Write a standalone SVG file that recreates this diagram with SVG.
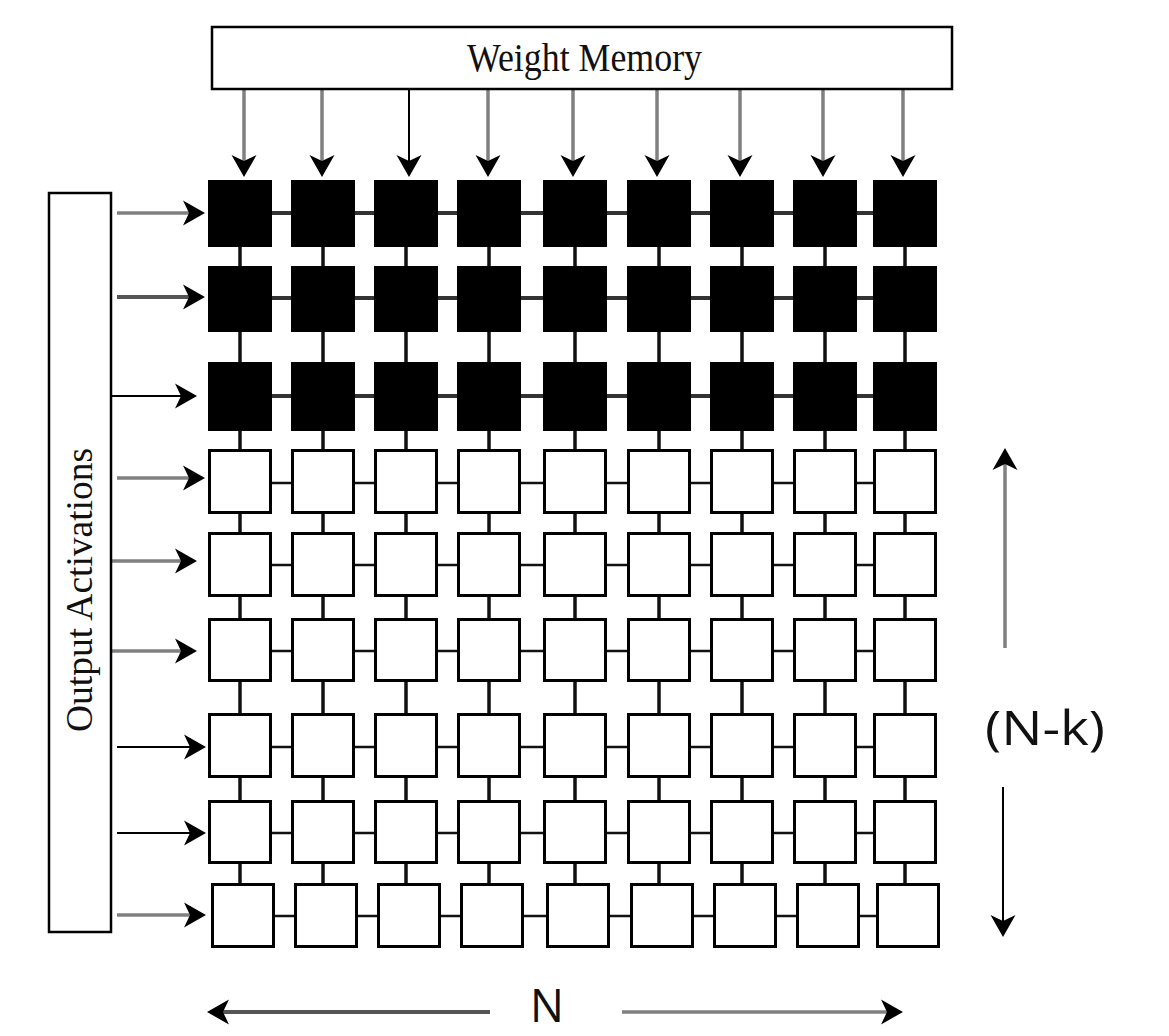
<svg xmlns="http://www.w3.org/2000/svg" width="1169" height="1036" viewBox="0 0 1169 1036">
<style>
.box{fill:#fff;stroke:#000;stroke-width:2.5}
.pb{fill:#000}
.pw{fill:#fff;stroke:#000;stroke-width:3}
.hb{stroke:#333;stroke-width:4}
.hw{stroke:#111;stroke-width:2.5}
.v{stroke:#111;stroke-width:3.5}
.ag{stroke:#808080;stroke-width:3.5;fill:none;marker-end:url(#ah)}
.ad{stroke:#555;stroke-width:4;fill:none;marker-end:url(#ah)}
.ak{stroke:#000;stroke-width:2;fill:none;marker-end:url(#ah)}
.serif{font-family:"Liberation Serif","Times New Roman",serif;fill:#111}
.sans{font-family:"Open Sans","DejaVu Sans",sans-serif;fill:#111}
</style>
<defs>
<marker id="ah" markerUnits="userSpaceOnUse" markerWidth="30" markerHeight="30" viewBox="-25 -15 30 30" refX="-15" refY="0" orient="auto">
<path d="M0,0 L-22,-12.5 L-16,0 L-22,12.5 Z" fill="#000"/>
</marker>
</defs>
<rect width="1169" height="1036" fill="#fff"/>
<g id="connectors">
<line class="hb" x1="208" y1="213" x2="937" y2="213"/>
<line class="hb" x1="208" y1="298" x2="937" y2="298"/>
<line class="hb" x1="208" y1="396" x2="937" y2="396"/>
<line class="hw" x1="208" y1="483" x2="937" y2="483"/>
<line class="hw" x1="208" y1="565" x2="937" y2="565"/>
<line class="hw" x1="208" y1="651" x2="937" y2="651"/>
<line class="hw" x1="208" y1="747" x2="937" y2="747"/>
<line class="hw" x1="208" y1="833" x2="937" y2="833"/>
<line class="hw" x1="211" y1="916" x2="940" y2="916"/>
<line class="v" x1="240" y1="200" x2="240" y2="900"/>
<line class="v" x1="323" y1="200" x2="323" y2="900"/>
<line class="v" x1="406" y1="200" x2="406" y2="900"/>
<line class="v" x1="489" y1="200" x2="489" y2="900"/>
<line class="v" x1="575" y1="200" x2="575" y2="900"/>
<line class="v" x1="659" y1="200" x2="659" y2="900"/>
<line class="v" x1="742" y1="200" x2="742" y2="900"/>
<line class="v" x1="825" y1="200" x2="825" y2="900"/>
<line class="v" x1="905" y1="200" x2="905" y2="900"/>
<line class="ag" x1="244" y1="89" x2="244" y2="162"/>
<line class="ag" x1="322" y1="89" x2="322" y2="162"/>
<line class="ak" x1="409" y1="89" x2="409" y2="162"/>
<line class="ag" x1="488" y1="89" x2="488" y2="162"/>
<line class="ag" x1="573" y1="89" x2="573" y2="162"/>
<line class="ag" x1="657" y1="89" x2="657" y2="162"/>
<line class="ag" x1="740" y1="89" x2="740" y2="162"/>
<line class="ag" x1="823" y1="89" x2="823" y2="162"/>
<line class="ag" x1="903" y1="89" x2="903" y2="162"/>
<line class="ag" x1="117" y1="213" x2="190" y2="213"/>
<line class="ad" x1="117" y1="297" x2="190" y2="297"/>
<line class="ak" x1="110" y1="396" x2="182" y2="396"/>
<line class="ag" x1="117" y1="478" x2="190" y2="478"/>
<line class="ag" x1="110" y1="561" x2="182" y2="561"/>
<line class="ag" x1="110" y1="651" x2="182" y2="651"/>
<line class="ak" x1="117" y1="747" x2="191" y2="747"/>
<line class="ak" x1="117" y1="833" x2="191" y2="833"/>
<line class="ag" x1="117" y1="915" x2="191" y2="915"/>
<line class="ag" x1="1005" y1="648" x2="1005" y2="463"/>
<line class="ak" x1="1003" y1="787" x2="1003" y2="922"/>
<line class="ad" x1="490" y1="1012" x2="222" y2="1012"/>
<line class="ag" x1="622" y1="1012" x2="888" y2="1012"/>
</g>
<g id="weight-memory">
<rect class="box" x="212" y="27" width="740" height="62"/>
<text class="serif" x="467" y="71" font-size="40" textLength="235" lengthAdjust="spacingAndGlyphs">Weight Memory</text>
</g>
<g id="output-activations">
<rect class="box" x="49" y="193" width="62" height="739"/>
<text class="serif" x="92" y="590" font-size="37" text-anchor="middle" textLength="284" lengthAdjust="spacingAndGlyphs" transform="rotate(-90 92 590)">Output Activations</text>
</g>
<g id="label-nk"><text class="sans" x="985" y="745" font-size="48" textLength="120" lengthAdjust="spacingAndGlyphs">(N-k)</text></g>
<g id="label-n"><text class="sans" x="530" y="1022" font-size="45">N</text></g>
<g id="pe-r1">
<g id="pe-1-1"><rect class="pb" x="208" y="180" width="64" height="67"/></g>
<g id="pe-1-2"><rect class="pb" x="291" y="180" width="64" height="67"/></g>
<g id="pe-1-3"><rect class="pb" x="374" y="180" width="64" height="67"/></g>
<g id="pe-1-4"><rect class="pb" x="457" y="180" width="64" height="67"/></g>
<g id="pe-1-5"><rect class="pb" x="543" y="180" width="64" height="67"/></g>
<g id="pe-1-6"><rect class="pb" x="627" y="180" width="64" height="67"/></g>
<g id="pe-1-7"><rect class="pb" x="710" y="180" width="64" height="67"/></g>
<g id="pe-1-8"><rect class="pb" x="793" y="180" width="64" height="67"/></g>
<g id="pe-1-9"><rect class="pb" x="873" y="180" width="64" height="67"/></g>
</g>
<g id="pe-r2">
<g id="pe-2-1"><rect class="pb" x="208" y="266" width="64" height="66"/></g>
<g id="pe-2-2"><rect class="pb" x="291" y="266" width="64" height="66"/></g>
<g id="pe-2-3"><rect class="pb" x="374" y="266" width="64" height="66"/></g>
<g id="pe-2-4"><rect class="pb" x="457" y="266" width="64" height="66"/></g>
<g id="pe-2-5"><rect class="pb" x="543" y="266" width="64" height="66"/></g>
<g id="pe-2-6"><rect class="pb" x="627" y="266" width="64" height="66"/></g>
<g id="pe-2-7"><rect class="pb" x="710" y="266" width="64" height="66"/></g>
<g id="pe-2-8"><rect class="pb" x="793" y="266" width="64" height="66"/></g>
<g id="pe-2-9"><rect class="pb" x="873" y="266" width="64" height="66"/></g>
</g>
<g id="pe-r3">
<g id="pe-3-1"><rect class="pb" x="208" y="362" width="64" height="69"/></g>
<g id="pe-3-2"><rect class="pb" x="291" y="362" width="64" height="69"/></g>
<g id="pe-3-3"><rect class="pb" x="374" y="362" width="64" height="69"/></g>
<g id="pe-3-4"><rect class="pb" x="457" y="362" width="64" height="69"/></g>
<g id="pe-3-5"><rect class="pb" x="543" y="362" width="64" height="69"/></g>
<g id="pe-3-6"><rect class="pb" x="627" y="362" width="64" height="69"/></g>
<g id="pe-3-7"><rect class="pb" x="710" y="362" width="64" height="69"/></g>
<g id="pe-3-8"><rect class="pb" x="793" y="362" width="64" height="69"/></g>
<g id="pe-3-9"><rect class="pb" x="873" y="362" width="64" height="69"/></g>
</g>
<g id="pe-r4">
<g id="pe-4-1"><rect class="pw" x="209.5" y="450.5" width="61" height="62"/></g>
<g id="pe-4-2"><rect class="pw" x="292.5" y="450.5" width="61" height="62"/></g>
<g id="pe-4-3"><rect class="pw" x="375.5" y="450.5" width="61" height="62"/></g>
<g id="pe-4-4"><rect class="pw" x="458.5" y="450.5" width="61" height="62"/></g>
<g id="pe-4-5"><rect class="pw" x="544.5" y="450.5" width="61" height="62"/></g>
<g id="pe-4-6"><rect class="pw" x="628.5" y="450.5" width="61" height="62"/></g>
<g id="pe-4-7"><rect class="pw" x="711.5" y="450.5" width="61" height="62"/></g>
<g id="pe-4-8"><rect class="pw" x="794.5" y="450.5" width="61" height="62"/></g>
<g id="pe-4-9"><rect class="pw" x="874.5" y="450.5" width="61" height="62"/></g>
</g>
<g id="pe-r5">
<g id="pe-5-1"><rect class="pw" x="209.5" y="533.5" width="61" height="62"/></g>
<g id="pe-5-2"><rect class="pw" x="292.5" y="533.5" width="61" height="62"/></g>
<g id="pe-5-3"><rect class="pw" x="375.5" y="533.5" width="61" height="62"/></g>
<g id="pe-5-4"><rect class="pw" x="458.5" y="533.5" width="61" height="62"/></g>
<g id="pe-5-5"><rect class="pw" x="544.5" y="533.5" width="61" height="62"/></g>
<g id="pe-5-6"><rect class="pw" x="628.5" y="533.5" width="61" height="62"/></g>
<g id="pe-5-7"><rect class="pw" x="711.5" y="533.5" width="61" height="62"/></g>
<g id="pe-5-8"><rect class="pw" x="794.5" y="533.5" width="61" height="62"/></g>
<g id="pe-5-9"><rect class="pw" x="874.5" y="533.5" width="61" height="62"/></g>
</g>
<g id="pe-r6">
<g id="pe-6-1"><rect class="pw" x="209.5" y="619.5" width="61" height="61"/></g>
<g id="pe-6-2"><rect class="pw" x="292.5" y="619.5" width="61" height="61"/></g>
<g id="pe-6-3"><rect class="pw" x="375.5" y="619.5" width="61" height="61"/></g>
<g id="pe-6-4"><rect class="pw" x="458.5" y="619.5" width="61" height="61"/></g>
<g id="pe-6-5"><rect class="pw" x="544.5" y="619.5" width="61" height="61"/></g>
<g id="pe-6-6"><rect class="pw" x="628.5" y="619.5" width="61" height="61"/></g>
<g id="pe-6-7"><rect class="pw" x="711.5" y="619.5" width="61" height="61"/></g>
<g id="pe-6-8"><rect class="pw" x="794.5" y="619.5" width="61" height="61"/></g>
<g id="pe-6-9"><rect class="pw" x="874.5" y="619.5" width="61" height="61"/></g>
</g>
<g id="pe-r7">
<g id="pe-7-1"><rect class="pw" x="209.5" y="714.5" width="61" height="62"/></g>
<g id="pe-7-2"><rect class="pw" x="292.5" y="714.5" width="61" height="62"/></g>
<g id="pe-7-3"><rect class="pw" x="375.5" y="714.5" width="61" height="62"/></g>
<g id="pe-7-4"><rect class="pw" x="458.5" y="714.5" width="61" height="62"/></g>
<g id="pe-7-5"><rect class="pw" x="544.5" y="714.5" width="61" height="62"/></g>
<g id="pe-7-6"><rect class="pw" x="628.5" y="714.5" width="61" height="62"/></g>
<g id="pe-7-7"><rect class="pw" x="711.5" y="714.5" width="61" height="62"/></g>
<g id="pe-7-8"><rect class="pw" x="794.5" y="714.5" width="61" height="62"/></g>
<g id="pe-7-9"><rect class="pw" x="874.5" y="714.5" width="61" height="62"/></g>
</g>
<g id="pe-r8">
<g id="pe-8-1"><rect class="pw" x="209.5" y="801.5" width="61" height="61"/></g>
<g id="pe-8-2"><rect class="pw" x="292.5" y="801.5" width="61" height="61"/></g>
<g id="pe-8-3"><rect class="pw" x="375.5" y="801.5" width="61" height="61"/></g>
<g id="pe-8-4"><rect class="pw" x="458.5" y="801.5" width="61" height="61"/></g>
<g id="pe-8-5"><rect class="pw" x="544.5" y="801.5" width="61" height="61"/></g>
<g id="pe-8-6"><rect class="pw" x="628.5" y="801.5" width="61" height="61"/></g>
<g id="pe-8-7"><rect class="pw" x="711.5" y="801.5" width="61" height="61"/></g>
<g id="pe-8-8"><rect class="pw" x="794.5" y="801.5" width="61" height="61"/></g>
<g id="pe-8-9"><rect class="pw" x="874.5" y="801.5" width="61" height="61"/></g>
</g>
<g id="pe-r9">
<g id="pe-9-1"><rect class="pw" x="212.5" y="884.5" width="61" height="62"/></g>
<g id="pe-9-2"><rect class="pw" x="295.5" y="884.5" width="61" height="62"/></g>
<g id="pe-9-3"><rect class="pw" x="378.5" y="884.5" width="61" height="62"/></g>
<g id="pe-9-4"><rect class="pw" x="461.5" y="884.5" width="61" height="62"/></g>
<g id="pe-9-5"><rect class="pw" x="547.5" y="884.5" width="61" height="62"/></g>
<g id="pe-9-6"><rect class="pw" x="631.5" y="884.5" width="61" height="62"/></g>
<g id="pe-9-7"><rect class="pw" x="714.5" y="884.5" width="61" height="62"/></g>
<g id="pe-9-8"><rect class="pw" x="797.5" y="884.5" width="61" height="62"/></g>
<g id="pe-9-9"><rect class="pw" x="877.5" y="884.5" width="61" height="62"/></g>
</g>
</svg>
